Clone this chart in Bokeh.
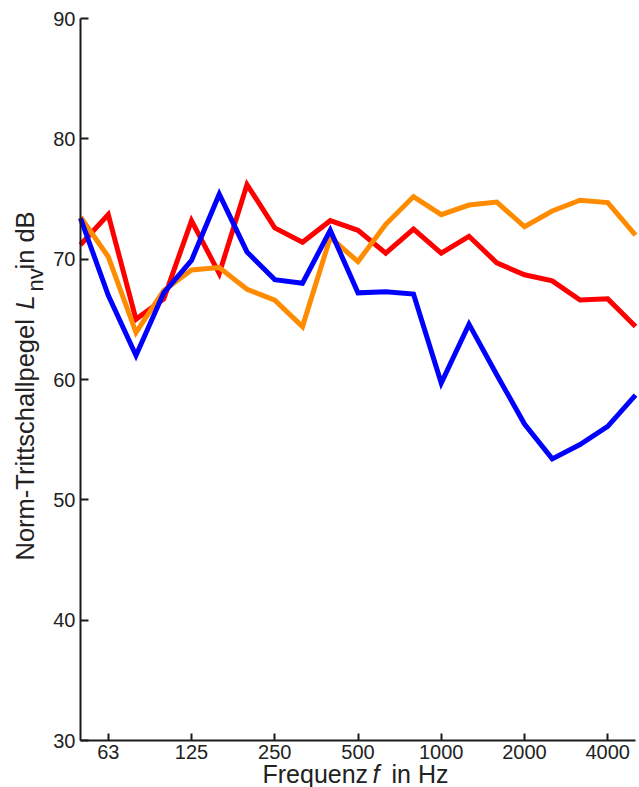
from bokeh.plotting import figure
from bokeh.models import Range1d, FixedTicker, Label, LinearAxis
from bokeh.embed import file_html
from bokeh.resources import INLINE
import math

# Third-octave band centre frequencies (Hz)
bands = ["50", "63", "80", "100", "125", "160", "200", "250", "315", "400", "500",
         "630", "800", "1000", "1250", "1600", "2000", "2500", "3150", "4000", "5000"]
tick_labels = ["63", "125", "250", "500", "1000", "2000", "4000"]
y_ticks = [30, 40, 50, 60, 70, 80, 90]

# Norm-Trittschallpegel L_nv in dB
blue_vals = [73.4, 67.0, 62.0, 67.2, 69.9, 75.4, 70.6, 68.3, 68.0, 72.4, 67.2,
             67.3, 67.1, 59.7, 64.6, 60.4, 56.3, 53.4, 54.6, 56.1, 58.7]
red_vals = [71.2, 73.7, 65.0, 66.7, 73.2, 68.8, 76.2, 72.6, 71.4, 73.2, 72.4,
            70.5, 72.5, 70.5, 71.9, 69.7, 68.7, 68.2, 66.6, 66.7, 64.4]
orange_vals = [73.5, 70.2, 63.9, 67.4, 69.1, 69.3, 67.5, 66.6, 64.4, 71.8, 69.8,
               72.9, 75.2, 73.7, 74.5, 74.75, 72.7, 74.0, 74.9, 74.7, 72.0]

xpos = list(range(len(bands)))
FONT = "Liberation Sans"

W, H = 639, 787
# plot area in pixels: x 80..635, y 18..740
px_left, px_right, py_top, py_bottom = 80, 635, 18, 740
n = len(bands) - 1
sx = (px_right - px_left) / n
sy = (py_bottom - py_top) / (90 - 30)
x_range = Range1d(0 - px_left / sx, n + (W - px_right) / sx)
y_range = Range1d(30 - (H - py_bottom) / sy, 90 + py_top / sy)

p = figure(width=W, height=H, output_backend="svg", toolbar_location=None,
           x_range=x_range, y_range=y_range,
           x_axis_location=None, y_axis_location=None,
           min_border=0)
p.outline_line_color = None
p.xgrid.visible = False
p.ygrid.visible = False
p.background_fill_color = "white"
p.border_fill_color = "white"

p.line(xpos, red_vals, line_color="#FF0000", line_width=5, line_join="miter")
p.line(xpos, orange_vals, line_color="#FF8C00", line_width=5, line_join="miter")
p.line(xpos, blue_vals, line_color="#0000FF", line_width=5, line_join="miter")

tick_pos = [bands.index(t) for t in tick_labels]
xaxis = LinearAxis(fixed_location=30, bounds=(0, n), ticker=FixedTicker(ticks=tick_pos))
xaxis.major_label_overrides = {i: t for i, t in zip(tick_pos, tick_labels)}
yaxis = LinearAxis(fixed_location=0, bounds=(30, 90), ticker=FixedTicker(ticks=y_ticks))

for ax in (xaxis, yaxis):
    ax.axis_line_color = "#1a1a1a"
    ax.axis_line_width = 2
    ax.major_tick_line_color = "#1a1a1a"
    ax.major_tick_line_width = 2
    ax.major_tick_out = 0
    ax.minor_tick_line_color = None
    ax.major_label_text_font = FONT
    ax.major_label_text_font_size = "20px"
    ax.major_label_text_color = "#222222"
xaxis.major_tick_in = 7
yaxis.major_tick_in = 8
xaxis.major_label_standoff = 4
yaxis.major_label_standoff = 5
p.add_layout(xaxis, "below")
p.add_layout(yaxis, "left")

# y axis label pieces (rotated), screen px from bottom-left
def ylab(text, x, y, size="25.5px", style="normal"):
    p.add_layout(Label(x=x, y=H - y, x_units="screen", y_units="screen", text=text,
                       angle=math.pi / 2, text_font=FONT, text_font_size=size,
                       text_font_style=style, text_color="#222222",
                       text_align="left", text_baseline="alphabetic"))

ylab("Norm-Trittschallpegel", 24, 560)
ylab("L", 24, 309, style="italic")
ylab("nv", 35, 291, size="22px")
ylab("in dB", 24, 269)

# x axis label pieces
def xlab(text, x, y, style="normal"):
    p.add_layout(Label(x=x, y=H - y, x_units="screen", y_units="screen", text=text,
                       text_font=FONT, text_font_size="25px", text_font_style=style,
                       text_color="#222222", text_align="left", text_baseline="alphabetic"))

xlab("Frequenz", 262, 773)
xlab("f", 372, 773, style="italic")
xlab("in Hz", 391, 773)

open("out.html", "w").write(file_html(p, INLINE))
